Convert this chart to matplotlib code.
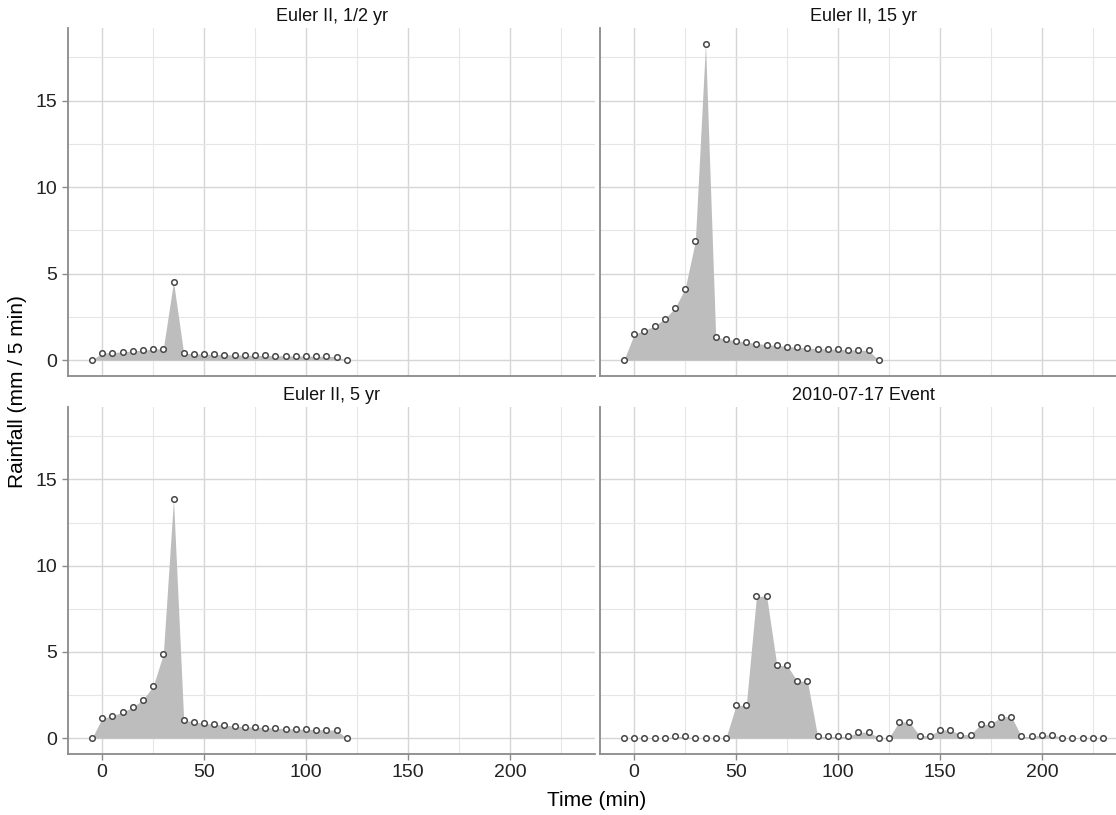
import matplotlib
matplotlib.use("Agg")
import matplotlib.pyplot as plt
import numpy as np

plt.rcParams['font.family'] = ['Liberation Sans', 'DejaVu Sans']

# time axis (min)
euler_time = list(range(-5, 125, 5))
event_time = list(range(-5, 235, 5))

# rainfall (mm / 5 min)
euler_half = [0, 0.42, 0.44, 0.48, 0.54, 0.58, 0.63, 0.67, 4.53,
              0.40, 0.37, 0.35, 0.33, 0.32, 0.30, 0.29, 0.28, 0.27, 0.26,
              0.25, 0.245, 0.24, 0.23, 0.22, 0.21, 0]
euler_15 = [0, 1.50, 1.71, 1.98, 2.39, 3.00, 4.14, 6.86, 18.3,
            1.35, 1.21, 1.12, 1.04, 0.96, 0.90, 0.85, 0.79, 0.75, 0.71,
            0.67, 0.65, 0.63, 0.60, 0.58, 0.56, 0]
euler_5 = [0, 1.16, 1.29, 1.52, 1.79, 2.24, 3.00, 4.87, 13.85,
           1.06, 0.94, 0.87, 0.81, 0.75, 0.71, 0.67, 0.64, 0.62, 0.58,
           0.56, 0.54, 0.52, 0.50, 0.48, 0.46, 0]
event = [0, 0.04, 0.04, 0, 0, 0.1, 0.1, 0, 0, 0, 0,
         1.91, 1.91, 8.23, 8.23, 4.22, 4.22, 3.31, 3.31,
         0.1, 0.1, 0.1, 0.1, 0.35, 0.35, 0.04, 0.04, 0.94, 0.94,
         0.15, 0.15, 0.48, 0.48, 0.21, 0.21, 0.81, 0.81, 1.25, 1.25,
         0.1, 0.1, 0.19, 0.19, 0.04, 0.04, 0.04, 0.04, 0]

panel_titles = ["Euler II, 1/2 yr", "Euler II, 15 yr", "Euler II, 5 yr", "2010-07-17 Event"]
panel_data = [(euler_time, euler_half), (euler_time, euler_15),
              (euler_time, euler_5), (event_time, event)]

W, H = 1116, 815
fig = plt.figure(figsize=(W / 100, H / 100), dpi=100)

# panel boxes in pixels: (left, top, right, bottom)
pw = 527
boxes = [(68, 28, 68 + pw, 376), (600, 28, 600 + pw, 376),
         (68, 407, 68 + pw, 754), (600, 407, 600 + pw, 754)]

axis_col = "#8a8a8a"
for i, (box, title, (t, r)) in enumerate(zip(boxes, panel_titles, panel_data)):
    l, tp, rt, bt = box
    ax = fig.add_axes([l / W, 1 - bt / H, (rt - l) / W, (bt - tp) / H])
    ax.fill_between(t, r, 0, color="#bdbdbd", lw=0, zorder=2)
    ax.plot(t, r, "o", ms=4.0, mfc="white", mec="#474747", mew=1.1, zorder=3)
    ax.set_xlim(-16.75, 241.75)
    ax.set_ylim(-0.915, 19.2)
    ax.set_xticks([0, 50, 100, 150, 200])
    ax.set_xticks([25, 75, 125, 175, 225], minor=True)
    ax.set_yticks([0, 5, 10, 15])
    ax.set_yticks([2.5, 7.5, 12.5, 17.5], minor=True)
    ax.grid(True, which="major", color="#d6d6d6", lw=1.0, zorder=0)
    ax.grid(True, which="minor", color="#e6e6e6", lw=0.8, zorder=0)
    ax.set_axisbelow(True)
    for s in ["top", "right"]:
        ax.spines[s].set_visible(False)
    for s in ["left", "bottom"]:
        ax.spines[s].set_color(axis_col)
        ax.spines[s].set_linewidth(1.3)
    ax.tick_params(which="minor", length=0)
    ax.tick_params(which="major", color=axis_col, length=4, width=1,
                   labelsize=14, labelcolor="#222222")
    if i < 2:
        ax.tick_params(axis="x", which="major", length=0, labelbottom=False)
    if i % 2 == 1:
        ax.tick_params(axis="y", which="major", length=0, labelleft=False)
    ax.set_title(title, fontsize=13, color="#111111", pad=5)

fig.text(597 / W, 1 - 800 / H, "Time (min)", ha="center", va="center", fontsize=15)
fig.text(18 / W, 1 - 392 / H, "Rainfall (mm / 5 min)", ha="center", va="center",
         rotation=90, fontsize=15)

fig.savefig("out.png", dpi=100)
